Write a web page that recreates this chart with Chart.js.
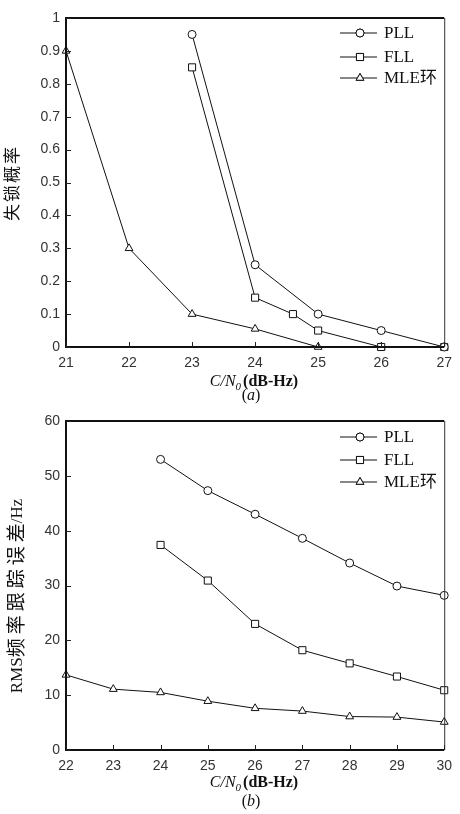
<!DOCTYPE html>
<html>
<head>
<meta charset="utf-8">
<script src="https://cdn.jsdelivr.net/npm/chart.js@4/dist/chart.umd.min.js"></script>
<style>
  html, body { margin: 0; padding: 0; background: #fff; }
  #wrap { position: relative; width: 460px; height: 814px; }
  canvas { position: absolute; left: 0; }
</style>
</head>
<body>
<div id="wrap">
  <canvas id="chartA" width="460" height="405" style="top:0"></canvas>
  <canvas id="chartB" width="460" height="409" style="top:405px"></canvas>
</div>
<script>
// (a) 失锁概率 vs C/N0
const pllSnrA = [23, 24, 25, 26, 27];
const pllLossA = [0.95, 0.25, 0.1, 0.05, 0];
const fllSnrA = [23, 24, 24.6, 25, 26, 27];
const fllLossA = [0.85, 0.15, 0.1, 0.05, 0, 0];
const mleSnrA = [21, 22, 23, 24, 25, 26, 27];
const mleLossA = [0.9, 0.3, 0.1, 0.055, 0, 0, 0];

// (b) RMS 频率跟踪误差 vs C/N0
const pllSnrB = [24, 25, 26, 27, 28, 29, 30];
const pllRmsB = [53, 47.3, 43, 38.6, 34.1, 29.9, 28.2];
const fllSnrB = [24, 25, 26, 27, 28, 29, 30];
const fllRmsB = [37.4, 30.9, 23, 18.2, 15.8, 13.4, 10.9];
const mleSnrB = [22, 23, 24, 25, 26, 27, 28, 29, 30];
const mleRmsB = [13.7, 11.1, 10.5, 8.9, 7.6, 7.1, 6.1, 6.0, 5.1];

const seriesNames = ["PLL", "FLL", "MLE环"];
const markerStyles = ["circle", "rect", "triangle"];
const markerSizes = [4, 5, 4.5];

const SERIF = "'Liberation Serif', 'Noto Sans CJK SC', serif";
const SANS = "'Liberation Sans', Arial, sans-serif";

function pairs(xs, ys) {
  return xs.map((x, i) => ({ x: x, y: ys[i] }));
}

function drawMarker(ctx, style, r, x, y) {
  Chart.helpers.drawPoint(ctx, { pointStyle: style, radius: r, rotation: 0, borderWidth: 1 }, x, y);
  ctx.fill();
  ctx.stroke();
}

// draws text pieces one after another, centred on cx
function drawPieces(ctx, pieces, cx, y) {
  let w = 0;
  pieces.forEach((p) => {
    ctx.font = p.f;
    ctx.letterSpacing = (p.sp || 0) + "px";
    p.w = ctx.measureText(p.t).width + (p.gap || 0);
    w += p.w;
  });
  let x = cx - w / 2;
  ctx.textAlign = "left";
  pieces.forEach((p) => {
    ctx.font = p.f;
    ctx.letterSpacing = (p.sp || 0) + "px";
    ctx.fillText(p.t, x, y + (p.dy || 0));
    x += p.w;
  });
  ctx.letterSpacing = "0px";
}

// frame, inward ticks, legend and titles
const paperPlugin = {
  id: "paper",
  afterDraw(chart, args, o) {
    const ctx = chart.ctx;
    const a = chart.chartArea;
    const xs = chart.scales.x;
    const ys = chart.scales.y;
    ctx.save();

    // box
    ctx.strokeStyle = "#111";
    ctx.lineWidth = 2;
    ctx.beginPath();
    ctx.moveTo(a.right, a.top);
    ctx.lineTo(a.left, a.top);
    ctx.lineTo(a.left, a.bottom);
    ctx.lineTo(a.right, a.bottom);
    ctx.stroke();
    ctx.lineWidth = 1;
    ctx.strokeStyle = "#333";
    ctx.beginPath();
    ctx.moveTo(a.right + 0.5, a.top);
    ctx.lineTo(a.right + 0.5, a.bottom);
    ctx.stroke();

    // inward ticks
    ctx.strokeStyle = "#222";
    ctx.lineWidth = 1;
    ctx.beginPath();
    xs.ticks.forEach((t) => {
      const px = Math.round(xs.getPixelForValue(t.value)) + 0.5;
      ctx.moveTo(px, a.bottom);
      ctx.lineTo(px, a.bottom - 5);
    });
    ys.ticks.forEach((t) => {
      const py = Math.round(ys.getPixelForValue(t.value)) + 0.5;
      ctx.moveTo(a.left, py);
      ctx.lineTo(a.left + 5, py);
    });
    ctx.stroke();

    // legend
    chart.data.datasets.forEach((ds, i) => {
      const y = o.legendY[i];
      ctx.strokeStyle = "#111";
      ctx.lineWidth = 1;
      ctx.beginPath();
      ctx.moveTo(340, y);
      ctx.lineTo(377, y);
      ctx.stroke();
      ctx.fillStyle = "#fff";
      drawMarker(ctx, ds.pointStyle, ds.pointRadius, 360, y);
      ctx.fillStyle = "#111";
      ctx.font = "17px " + SERIF;
      ctx.textAlign = "left";
      ctx.textBaseline = "middle";
      ctx.fillText(ds.label, 384, y + 1);
    });

    // y title
    ctx.save();
    ctx.translate(o.yTitleX, o.yTitleY);
    ctx.rotate(-Math.PI / 2);
    ctx.fillStyle = "#111";
    ctx.textBaseline = "middle";
    drawPieces(ctx, o.yTitle, 0, 0);
    ctx.restore();

    // x title: C/N0(dB-Hz)
    ctx.fillStyle = "#111";
    ctx.textBaseline = "alphabetic";
    drawPieces(ctx, [
      { t: "C/N", f: "italic 16px " + SERIF },
      { t: "0", f: "italic 11px " + SERIF, dy: 4, gap: 2 },
      { t: "(dB-Hz)", f: "bold 16px " + SERIF },
    ], 254, o.xTitleBase);

    // sub-figure label
    drawPieces(ctx, [
      { t: "(", f: "16px " + SERIF },
      { t: o.subLabel, f: "italic 16px " + SERIF },
      { t: ")", f: "16px " + SERIF },
    ], 251, o.subBase);

    ctx.restore();
  },
};

function makeChart(id, sets, cfg) {
  const canvas = document.getElementById(id);
  const datasets = sets.map((s, i) => ({
    label: seriesNames[i],
    data: s,
    borderColor: "#111",
    borderWidth: 1,
    backgroundColor: "#fff",
    pointStyle: markerStyles[i],
    pointRadius: markerSizes[i],
    pointBorderWidth: 1,
    pointBackgroundColor: "#fff",
    pointBorderColor: "#111",
    tension: 0,
    clip: false,
  }));

  return new Chart(canvas.getContext("2d"), {
    type: "line",
    data: { datasets: datasets },
    options: {
      responsive: false,
      animation: false,
      devicePixelRatio: 1,
      layout: { padding: { left: 0, right: 9, top: cfg.top, bottom: 0 } },
      plugins: {
        legend: { display: false },
        tooltip: { enabled: false },
        paper: cfg.paper,
      },
      scales: {
        x: {
          type: "linear",
          min: cfg.xMin,
          max: cfg.xMax,
          grid: { display: false, tickLength: 0 },
          border: { display: false },
          ticks: {
            stepSize: 1,
            padding: 8,
            color: "#333",
            font: { family: SANS, size: 14 },
            maxRotation: 0,
          },
          afterFit: (scale) => { scale.height = canvas.height - cfg.bottom; },
        },
        y: {
          min: cfg.yMin,
          max: cfg.yMax,
          grid: { display: false, tickLength: 0 },
          border: { display: false },
          ticks: {
            stepSize: cfg.yStep,
            padding: 6,
            color: "#333",
            font: { family: SANS, size: 14 },
            callback: (v) => String(+v.toFixed(1)),
          },
          afterFit: (scale) => { scale.width = 66; },
        },
      },
    },
    plugins: [paperPlugin],
  });
}

makeChart(
  "chartA",
  [pairs(pllSnrA, pllLossA), pairs(fllSnrA, fllLossA), pairs(mleSnrA, mleLossA)],
  {
    top: 18, bottom: 347,
    xMin: 21, xMax: 27, yMin: 0, yMax: 1, yStep: 0.1,
    paper: {
      legendY: [33, 57, 78],
      yTitle: [{ t: "失锁概率", f: "17px " + SERIF, sp: 2, gap: -2 }],
      yTitleX: 14, yTitleY: 184,
      xTitleBase: 386, subBase: 400, subLabel: "a",
    },
  }
);

makeChart(
  "chartB",
  [pairs(pllSnrB, pllRmsB), pairs(fllSnrB, fllRmsB), pairs(mleSnrB, mleRmsB)],
  {
    top: 16, bottom: 345,
    xMin: 22, xMax: 30, yMin: 0, yMax: 60, yStep: 10,
    paper: {
      legendY: [32, 55, 77],
      yTitle: [
        { t: "RMS", f: "17px " + SERIF },
        { t: "频率跟踪误差", f: "19px " + SERIF, sp: 4, gap: -4 },
        { t: "/Hz", f: "17px " + SERIF },
      ],
      yTitleX: 18, yTitleY: 191,
      xTitleBase: 382, subBase: 401, subLabel: "b",
    },
  }
);
</script>
</body>
</html>
